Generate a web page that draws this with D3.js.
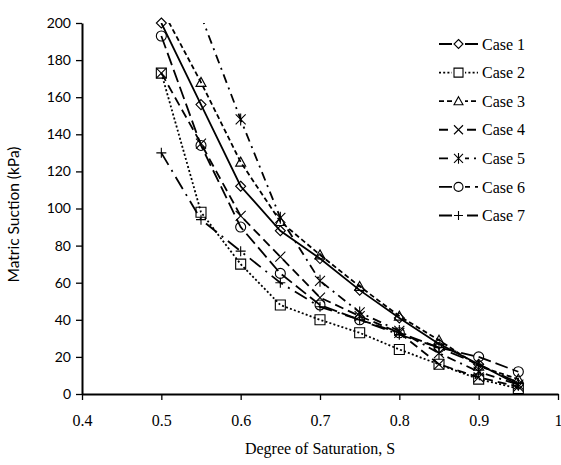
<!DOCTYPE html>
<html>
<head>
<meta charset="utf-8">
<script src="https://cdn.jsdelivr.net/npm/d3@7"></script>
<style>
  body { margin: 0; background: #fff; }
  svg { display: block; }
</style>
</head>
<body>
<svg id="chart" width="561" height="465"></svg>
<script>
// degree of saturation values
const saturation = [0.5, 0.55, 0.6, 0.65, 0.7, 0.75, 0.8, 0.85, 0.9, 0.95];

// matric suction (kPa) per case
const case1 = [200, 156, 112, 88, 73, 56, 41, 27, 16, 5];
const case2 = [173, 98, 70, 48, 40, 33, 24, 16, 8, 3];
const case3 = [208, 168, 125, 93, 75, 58, 42, 29, 15, 8];
const case4 = [173, 135, 96, 74, 52, 42, 33, 16, 9, 4];
const case5 = [null, 204, 148, 95, 61, 44, 34, 22, 12, 5];
const case6 = [193, 134, 90, 65, 48, 40, 33, 25, 20, 12];
const case7 = [130, 94, 77, 60, 47, 40, 32, 25, 16, 6];

const caseNames = ["Case 1", "Case 2", "Case 3", "Case 4", "Case 5", "Case 6", "Case 7"];
const xTicks = [0.4, 0.5, 0.6, 0.7, 0.8, 0.9, 1];
const yTicks = [0, 20, 40, 60, 80, 100, 120, 140, 160, 180, 200];

const allCases = [case1, case2, case3, case4, case5, case6, case7];

const styleMap = [
  { dash: null, marker: "diamond" },
  { dash: "2 2.2", marker: "square" },
  { dash: "5 3", marker: "triangle" },
  { dash: "9 5", marker: "cross" },
  { dash: "9 5 2 5", marker: "asterisk" },
  { dash: "13 5", marker: "circle" },
  { dash: "14 6 2 6", marker: "plus" }
];

const margin = { top: 23, right: 3, bottom: 71, left: 82 };
const width = 561 - margin.left - margin.right;
const height = 465 - margin.top - margin.bottom;

const svgEl = d3.select("#chart");
svgEl.append("rect").attr("width", 561).attr("height", 465).attr("fill", "#fff");

const svg = svgEl.append("g")
  .attr("transform", `translate(${margin.left},${margin.top})`);

const xScale = d3.scaleLinear().domain([0.4, 1]).range([0, width]);
const yScale = d3.scaleLinear().domain([0, 200]).range([height, 0]);

svg.append("clipPath").attr("id", "plotClip")
  .append("rect").attr("x", 0).attr("y", 0).attr("width", width).attr("height", height);

// markers, r is half size
function markerPath(type, r) {
  const p = d3.path();
  if (type === "diamond") {
    p.moveTo(0, -r); p.lineTo(r, 0); p.lineTo(0, r); p.lineTo(-r, 0); p.closePath();
  } else if (type === "square") {
    p.rect(-r, -r, 2 * r, 2 * r);
  } else if (type === "triangle") {
    p.moveTo(0, -r); p.lineTo(r, r * 0.8); p.lineTo(-r, r * 0.8); p.closePath();
  } else if (type === "cross") {
    p.moveTo(-r, -r); p.lineTo(r, r); p.moveTo(r, -r); p.lineTo(-r, r);
  } else if (type === "asterisk") {
    p.moveTo(-r, -r); p.lineTo(r, r); p.moveTo(r, -r); p.lineTo(-r, r);
    p.moveTo(0, -r * 1.2); p.lineTo(0, r * 1.2);
  } else if (type === "circle") {
    p.arc(0, 0, r, 0, 2 * Math.PI);
  } else if (type === "plus") {
    p.moveTo(-r, 0); p.lineTo(r, 0); p.moveTo(0, -r); p.lineTo(0, r);
  }
  return p.toString();
}

// axes
const xAxis = d3.axisBottom(xScale).tickValues(xTicks).tickSize(6).tickSizeOuter(0)
  .tickFormat(d => d === 1 ? "1" : d3.format(".1f")(d));
const xAxisGroup = svg.append("g")
  .attr("transform", `translate(0, ${height})`)
  .call(xAxis);
xAxisGroup.select(".domain").attr("stroke", "#000").attr("stroke-width", 2);
xAxisGroup.selectAll("line").attr("stroke", "#000").attr("stroke-width", 1.3);
xAxisGroup.selectAll("text")
  .attr("font-family", "'Liberation Serif', serif")
  .attr("font-size", "16px")
  .attr("fill", "#000")
  .attr("dy", "1.45em");

const yAxis = d3.axisLeft(yScale).tickValues(yTicks).tickSize(6).tickSizeOuter(0);
const yAxisGroup = svg.append("g").call(yAxis);
yAxisGroup.select(".domain").attr("stroke", "#000").attr("stroke-width", 2);
yAxisGroup.selectAll("line").attr("stroke", "#000").attr("stroke-width", 1.3);
yAxisGroup.selectAll("text")
  .attr("font-family", "Lato, sans-serif")
  .attr("font-size", "14px")
  .attr("fill", "#000")
  .attr("x", -11);

// axis titles
svg.append("text")
  .attr("x", width / 2)
  .attr("y", height + 60)
  .attr("text-anchor", "middle")
  .attr("font-family", "'Liberation Serif', serif")
  .attr("font-size", "16px")
  .text("Degree of Saturation, S");

svg.append("text")
  .attr("transform", `translate(${-63}, ${height / 2 + 6}) rotate(-90)`)
  .attr("text-anchor", "middle")
  .attr("font-family", "Lato, sans-serif")
  .attr("font-size", "15.5px")
  .text("Matric Suction (kPa)");

// lines
const plot = svg.append("g");
allCases.forEach((values, i) => {
  const rows = saturation.map((s, j) => ({ s: s, v: values[j] }));
  const line = d3.line()
    .defined(d => d.v !== null)
    .x(d => xScale(d.s))
    .y(d => yScale(d.v));

  plot.append("path")
    .datum(rows)
    .attr("d", line)
    .attr("fill", "none")
    .attr("stroke", "#000")
    .attr("stroke-width", 1.8)
    .attr("stroke-dasharray", styleMap[i].dash)
    .attr("clip-path", "url(#plotClip)");

  plot.append("g")
    .selectAll("path")
    .data(rows.filter(d => d.v !== null && d.v <= 200))
    .enter()
    .append("path")
    .attr("transform", d => `translate(${xScale(d.s)},${yScale(d.v)})`)
    .attr("d", markerPath(styleMap[i].marker, 5))
    .attr("fill", "none")
    .attr("stroke", "#000")
    .attr("stroke-width", 1.1);
});

// legend
const legend = svgEl.append("g");
const legY = d3.scaleLinear().domain([0, 6]).range([44, 215.5]);
caseNames.forEach((name, i) => {
  const y = legY(i);
  legend.append("line")
    .attr("x1", 439).attr("x2", 478)
    .attr("y1", y).attr("y2", y)
    .attr("stroke", "#000")
    .attr("stroke-width", 1.8)
    .attr("stroke-dasharray", styleMap[i].dash);
  legend.append("rect")
    .attr("x", 452).attr("y", y - 6).attr("width", 13).attr("height", 12)
    .attr("fill", "#fff");
  legend.append("path")
    .attr("transform", `translate(458.5,${y})`)
    .attr("d", markerPath(styleMap[i].marker, 4.5))
    .attr("fill", "none")
    .attr("stroke", "#000")
    .attr("stroke-width", 1.1);
  legend.append("text")
    .attr("x", 482).attr("y", y)
    .attr("dy", "0.35em")
    .attr("font-family", "'Liberation Serif', serif")
    .attr("font-size", "16px")
    .text(name);
});
</script>
</body>
</html>
